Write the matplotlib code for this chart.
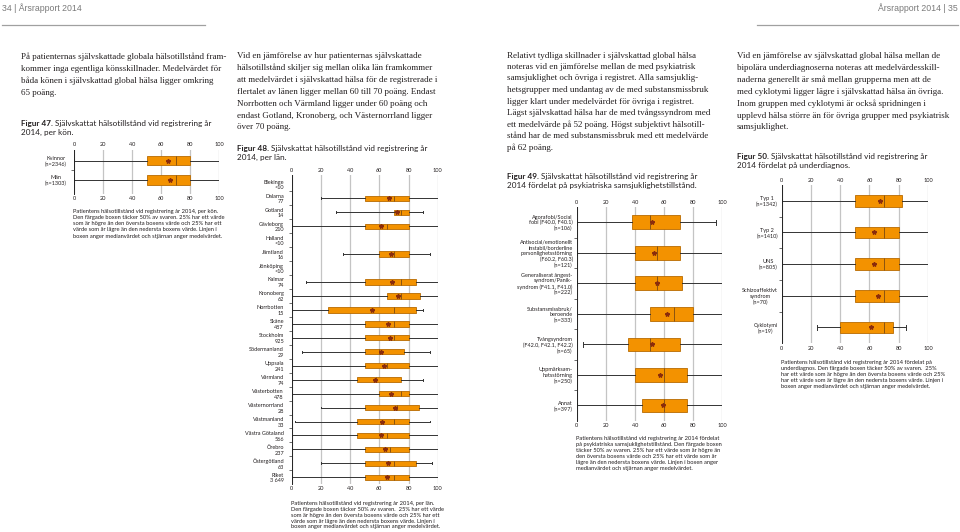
import matplotlib
matplotlib.use("Agg")
import matplotlib.pyplot as plt
from matplotlib.ticker import FixedLocator
import numpy as np

W, H = 960, 532
nan = np.nan

# Figur 47 - per kön
kon_labels = ["Kvinnor\n(n=2346)", "Män\n(n=1303)"]
kon_min = [0, 0]
kon_q1 = [50, 50]
kon_med = [70, 70]
kon_q3 = [80, 80]
kon_max = [100, 100]
kon_mean = [65, 66]

# Figur 48 - per län
lan_labels = ["Blekinge\n<10", "Dalarna\n77", "Gotland\n14", "Gävleborg\n210",
              "Halland\n<10", "Jämtland\n16", "Jönköping\n<10", "Kalmar\n74",
              "Kronoberg\n62", "Norrbotten\n15", "Skåne\n487", "Stockholm\n925",
              "Södermanland\n29", "Uppsala\n241", "Värmland\n74", "Västerbotten\n478",
              "Västernorrland\n28", "Västmanland\n33", "Västra Götaland\n566",
              "Örebro\n237", "Östergötland\n63", "Riket\n3 649"]
lan_min = [nan, 20, 30, 0, nan, 35, nan, 10, 0, 0, 0, 0, 7, 0, 0, 0, 20, 2, 0, 0, 20, 0]
lan_q1 = [nan, 50, 70, 50, nan, 60, nan, 50, 65, 25, 50, 50, 50, 50, 45, 60, 50, 45, 45, 50, 50, 50]
lan_med = [nan, 70, 75, 65, nan, 70, nan, 75, 75, 70, 70, 70, 60, 65, 58, 75, 72, 70, 65, 67, 70, 70]
lan_q3 = [nan, 80, 80, 80, nan, 80, nan, 85, 88, 85, 80, 80, 77, 80, 75, 80, 87, 80, 80, 80, 85, 80]
lan_max = [nan, 100, 90, 100, nan, 95, nan, 100, 100, 90, 100, 100, 95, 100, 90, 100, 100, 95, 100, 100, 96, 100]
lan_mean = [nan, 66.5, 72, 61, nan, 68, nan, 69, 72.5, 55, 66, 67, 61, 63, 57, 68, 70.5, 62, 61, 64, 66, 65]

# Figur 49 - psykiatriska samsjuklighetstillstånd
psy_labels = ["Agorafobi/Social\nfobi (F40.0, F40.1)\n(n=106)",
              "Antisocial/emotionellt\ninstabil/borderline\npersonlighetsstörning\n(F60.2, F60.3)\n(n=121)",
              "Generaliserat ångest-\nsyndrom/Panik-\nsyndrom (F41.1, F41.0)\n(n=222)",
              "Substansmissbruk/\nberoende\n(n=333)",
              "Tvångsyndrom\n(F42.0, F42.1, F42.2)\n(n=65)",
              "Uppmärksam-\nhetsstörning\n(n=250)",
              "Annat\n(n=397)"]
psy_min = [0, 0, 0, 0, 4, 0, 0]
psy_q1 = [38, 40, 40, 50, 35, 40, 45]
psy_med = [50, 55, 55, 67, 50, 60, 60]
psy_q3 = [71, 71, 72, 80, 71, 76, 76]
psy_max = [96, 100, 100, 100, 100, 100, 100]
psy_mean = [52, 53, 55, 62, 52, 57, 59]

# Figur 50 - underdiagnos
bip_labels = ["Typ 1\n(n=1342)", "Typ 2\n(n=1410)", "UNS\n(n=805)",
              "Schizoaffektivt\nsyndrom\n(n=70)", "Cyklotymi\n(n=19)"]
bip_min = [0, 0, 0, 0, 24]
bip_q1 = [50, 50, 50, 50, 40]
bip_med = [70, 70, 70, 70, 70]
bip_q3 = [82, 80, 80, 80, 76]
bip_max = [100, 100, 100, 100, 85]
bip_mean = [67, 63, 63, 66, 61]

para1 = ["På patienternas självskattade globala hälsotillstånd fram-",
         "kommer inga egentliga könsskillnader. Medelvärdet för",
         "båda könen i självskattad global hälsa ligger omkring",
         "65 poäng."]
para2 = ["Vid en jämförelse av hur patienternas självskattade",
         "hälsotillstånd skiljer sig mellan olika län framkommer",
         "att medelvärdet i självskattad hälsa för de registrerade i",
         "flertalet av länen ligger mellan 60 till 70 poäng. Endast",
         "Norrbotten och Värmland ligger under 60 poäng och",
         "endast Gotland, Kronoberg, och Västernorrland ligger",
         "över 70 poäng."]
para3 = ["Relativt tydliga skillnader i självskattad global hälsa",
         "noteras vid en jämförelse mellan de med psykiatrisk",
         "samsjuklighet och övriga i registret. Alla samsjuklig-",
         "hetsgrupper med undantag av de med substansmissbruk",
         "ligger klart under medelvärdet för övriga i registret.",
         "Lägst självskattad hälsa har de med tvångssyndrom med",
         "ett medelvärde på 52 poäng. Högst subjektivt hälsotill-",
         "stånd har de med substansmissbruk med ett medelvärde",
         "på 62 poäng."]
para4 = ["Vid en jämförelse av självskattad global hälsa mellan de",
         "bipolära underdiagnoserna noteras att medelvärdesskill-",
         "naderna generellt är små mellan grupperna men att de",
         "med cyklotymi ligger lägre i självskattad hälsa än övriga.",
         "Inom gruppen med cyklotymi är också spridningen i",
         "upplevd hälsa större än för övriga grupper med psykiatrisk",
         "samsjuklighet."]

cap47 = ["Patientens hälsotillstånd vid registrering år 2014, per kön.",
         "Den färgade boxen täcker 50% av svaren. 25% har ett värde",
         "som är högre än den översta boxens värde och 25% har ett",
         "värde som är lägre än den nedersta boxens värde. Linjen i",
         "boxen anger medianvärdet och stjärnan anger medelvärdet."]
cap48 = ["Patientens hälsotillstånd vid registrering år 2014, per län.",
         "Den färgade boxen täcker 50% av svaren.  25% har ett värde",
         "som är högre än den översta boxens värde och 25% har ett",
         "värde som är lägre än den nedersta boxens värde. Linjen i",
         "boxen anger medianvärdet och stjärnan anger medelvärdet."]
cap49 = ["Patientens hälsotillstånd vid registrering år 2014 fördelat",
         "på psykiatriska samsjuklighetstillstånd. Den färgade boxen",
         "täcker 50% av svaren. 25% har ett värde som är högre än",
         "den översta boxens värde och 25% har ett värde som är",
         "lägre än den nedersta boxens värde. Linjen i boxen anger",
         "medianvärdet och stjärnan anger medelvärdet."]
cap50 = ["Patientens hälsotillstånd vid registrering år 2014 fördelat på",
         "underdiagnos. Den färgade boxen täcker 50% av svaren.  25%",
         "har ett värde som är högre än den översta boxens värde och 25%",
         "har ett värde som är lägre än den nedersta boxens värde. Linjen i",
         "boxen anger medianvärdet och stjärnan anger medelvärdet."]

SERIF = ["Liberation Serif", "DejaVu Serif"]
SANS = ["Lato", "Liberation Sans", "DejaVu Sans"]
NARROW = ["Liberation Sans Narrow", "Liberation Sans", "DejaVu Sans"]
ORANGE = "#f39200"
EDGE = "#b86a00"
TXT = "#231f20"

fig = plt.figure(figsize=(W / 100, H / 100), dpi=100)
fig.patch.set_facecolor("white")
renderer = fig.canvas.get_renderer()


def fx(x):
    return x / W


def fy(y):
    return 1 - y / H


def lines(x, y0, dy, rows, **kw):
    for i, r in enumerate(rows):
        fig.text(fx(x), fy(y0 + i * dy), r, va="center", ha="left", color=TXT, **kw)


def title(x, y, num, rest, line2, size=5.9):
    t = fig.text(fx(x), fy(y), num, va="center", ha="left", fontsize=size,
                 fontweight="bold", family=SANS, color=TXT)
    bb = t.get_window_extent(renderer)
    fig.text(fx(bb.x1 + 2), fy(y), rest, va="center", ha="left", fontsize=size,
             family=SANS, color=TXT)
    fig.text(fx(x), fy(y + 8.8), line2, va="center", ha="left", fontsize=size,
             family=SANS, color=TXT)


def boxchart(x0, x1, y0, y1, ylim, labels, mins, q1s, meds, q3s, maxs, means,
             width, lab_align, lab_pad):
    ax = fig.add_axes([fx(x0), fy(y1), (x1 - x0) / W, (y1 - y0) / H])
    stats, pos = [], []
    for i in range(len(labels)):
        if np.isnan(meds[i]):
            continue
        stats.append(dict(whislo=mins[i], q1=q1s[i], med=meds[i], q3=q3s[i],
                          whishi=maxs[i], mean=means[i], fliers=[]))
        pos.append(i)
    ax.bxp(stats, positions=pos, widths=width, capwidths=width * 0.35,
           orientation="horizontal", patch_artist=True, showmeans=True,
           showfliers=False,
           boxprops=dict(facecolor=ORANGE, edgecolor=EDGE, linewidth=0.6),
           medianprops=dict(color="#7a4a12", linewidth=0.6),
           whiskerprops=dict(color="#333333", linewidth=0.7),
           capprops=dict(color="#333333", linewidth=0.7),
           meanprops=dict(marker="*", markerfacecolor="#8a2c0c",
                          markeredgecolor="#8a2c0c", markersize=3.2))
    ax.set_xlim(0, 100)
    ax.set_ylim(*ylim)
    ax.set_xticks(range(0, 101, 20))
    ax.tick_params(axis="x", labeltop=True, length=0, labelsize=4.1, pad=1.8,
                   labelcolor=TXT)
    for t in ax.get_xticklabels():
        t.set_family(SANS)
    ax.set_yticks(range(len(labels)))
    ax.set_yticklabels(labels)
    ax.tick_params(axis="y", length=0, labelsize=3.95, pad=lab_pad, labelcolor=TXT)
    for t in ax.get_yticklabels():
        t.set_family(SANS)
        t.set_multialignment(lab_align)
        t.set_linespacing(1.15)
    ax.yaxis.set_minor_locator(FixedLocator([i + 0.5 for i in range(len(labels) - 1)]))
    ax.tick_params(axis="y", which="minor", length=2.2, width=0.5, color="#333333")
    ax.xaxis.grid(True, color="#c4c4c4", linewidth=0.9)
    ax.set_axisbelow(True)
    for s in ["top", "bottom", "right"]:
        ax.spines[s].set_visible(False)
    ax.spines["left"].set_linewidth(0.7)
    ax.spines["left"].set_color("#222222")
    ax.set_facecolor("none")
    return ax


# header
fig.text(fx(2), fy(8.5), "34 | Årsrapport 2014", family=NARROW, fontsize=6.3,
         color="#7a7a7a", va="center", ha="left")
fig.text(fx(958), fy(8.5), "Årsrapport 2014 | 35", family=NARROW, fontsize=6.3,
         color="#7a7a7a", va="center", ha="right")
fig.add_artist(plt.Line2D([fx(2), fx(205)], [fy(24.5), fy(24.5)], color="#a0a0a0", lw=0.9))
fig.add_artist(plt.Line2D([fx(757), fx(958)], [fy(24.5), fy(24.5)], color="#a0a0a0", lw=0.9))

# paragraphs
pkw = dict(family=SERIF, fontsize=6.45)
lines(21, 56.5, 12.1, para1, **pkw)
lines(237, 56, 11.9, para2, **pkw)
lines(507, 55.5, 11.5, para3, **pkw)
lines(737, 56.5, 11.8, para4, **pkw)

# titles
title(21, 123.5, "Figur 47.", "Självskattat hälsotillstånd vid registrering år", "2014, per kön.")
title(237, 149, "Figur 48.", "Självskattat hälsotillstånd vid registrering år", "2014, per län.")
title(507, 177, "Figur 49.", "Självskattat hälsotillstånd vid registrering år",
      "2014 fördelat på psykiatriska samsjuklighetstillstånd.")
title(737, 157, "Figur 50.", "Självskattat hälsotillstånd vid registrering år",
      "2014 fördelat på underdiagnos.")

# charts
boxchart(74, 219.3, 150, 194, (1.725, -0.55), kon_labels, kon_min, kon_q1, kon_med,
         kon_q3, kon_max, kon_mean, 0.48, "center", 5)
boxchart(291.7, 437.7, 175, 484, (21.48, -0.67), lan_labels, lan_min, lan_q1, lan_med,
         lan_q3, lan_max, lan_mean, 0.38, "right", 5.5)
boxchart(576.7, 722.3, 207, 420.7, (6.5, -0.5), psy_labels, psy_min, psy_q1, psy_med,
         psy_q3, psy_max, psy_mean, 0.45, "right", 2.9)
boxchart(781.7, 928, 185, 343.3, (4.5, -0.5), bip_labels, bip_min, bip_q1, bip_med,
         bip_q3, bip_max, bip_mean, 0.37, "center", 2.7)

# captions
ckw = dict(family=SANS, fontsize=4.15)
lines(73, 211, 6.3, cap47, **ckw)
lines(291, 503.3, 5.9, cap48, **ckw)
lines(576, 438.3, 6.1, cap49, **ckw)
lines(780.7, 362.7, 5.95, cap50, **ckw)

fig.savefig("out.png", dpi=100, facecolor=fig.get_facecolor())
